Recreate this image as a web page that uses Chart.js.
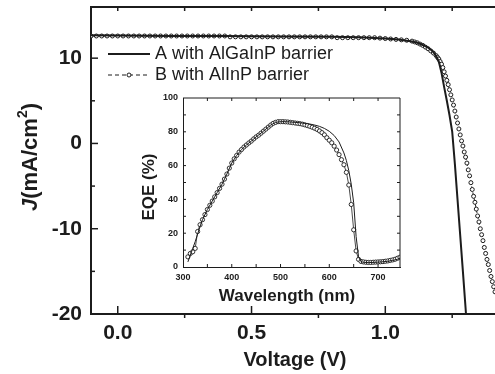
<!DOCTYPE html>
<html><head><meta charset="utf-8">
<script src="https://cdn.jsdelivr.net/npm/chart.js@4.4.1/dist/chart.umd.min.js"></script>
<style>
html,body{margin:0;padding:0;background:#fff;}
#wrap{position:relative;width:495px;height:374px;overflow:hidden;}
#wrap canvas{position:absolute;left:0;top:0;}
</style></head><body>
<div id="wrap"><canvas id="main" width="495" height="374"></canvas><canvas id="inset" width="495" height="374"></canvas></div>
<script>
// ---------- J-V data (main plot) ----------
const jvVoltageA = [-0.10,0.00,0.20,0.40,0.60,0.80,0.90,1.00,1.05,1.08,1.10,1.12,1.14,1.16,1.17,1.18,1.19,1.20,1.21,1.22,1.23,1.24,1.25,1.26,1.27,1.28,1.29,1.30,1.302];
const jvCurrentA = [12.7,12.65,12.6,12.6,12.55,12.5,12.45,12.3,12.2,12.05,11.95,11.8,11.55,11.25,11.0,10.7,10.25,9.6,8.3,6.6,5.0,3.3,1.4,-2.4,-6.6,-10.8,-15.0,-19.3,-20.2];

const jvVoltageB = [-0.10,-0.08,-0.06,-0.04,-0.02,0.00,0.02,0.04,0.06,0.08,0.10,0.12,0.14,0.16,0.18,0.20,0.22,0.24,0.26,0.28,0.30,0.32,0.34,0.36,0.38,0.40,
0.42,0.44,0.46,0.48,0.50,0.52,0.54,0.56,0.58,0.60,0.62,0.64,0.66,0.68,0.70,0.72,0.74,0.76,0.78,0.80,
0.82,0.84,0.86,0.88,0.90,0.92,0.94,0.96,0.98,1.00,1.02,1.04,1.06,1.08,1.10,
1.11,1.12,1.13,1.14,1.15,1.16,1.17,1.18,1.19,
1.195,1.20,1.205,1.21,1.215,1.22,1.225,1.23,1.235,1.24,1.245,1.25,1.255,1.26,1.265,1.27,1.275,1.28,1.285,1.29,1.295,1.30,1.305,1.31,1.315,1.32,1.325,1.33,1.335,1.34,1.345,1.35,1.355,1.36,1.365,1.37,1.375,1.38,1.385,1.39,1.395,1.40,1.405,1.41,1.415,1.42];
const jvCurrentB = [12.6,12.6,12.6,12.6,12.6,12.6,12.6,12.6,12.6,12.6,12.6,12.6,12.6,12.6,12.6,12.6,12.6,12.6,12.6,12.6,12.6,12.6,12.6,12.6,12.6,12.6,
12.5,12.5,12.5,12.5,12.5,12.5,12.5,12.5,12.5,12.5,12.5,12.5,12.5,12.5,12.5,12.5,12.5,12.5,12.5,12.5,
12.4,12.4,12.4,12.4,12.4,12.4,12.4,12.4,12.35,12.3,12.25,12.2,12.15,12.1,12.0,
11.9,11.8,11.65,11.5,11.3,11.1,10.85,10.6,10.3,
10.1,9.9,9.6,9.3,8.9,8.4,7.9,7.4,6.9,6.3,5.7,5.1,4.5,3.8,3.1,2.4,1.7,1.0,0.3,-0.3,-1.0,-1.6,-2.3,-3.1,-3.8,-4.6,-5.4,-6.2,-6.9,-7.7,-8.5,-9.2,-10.0,-10.7,-11.4,-12.2,-12.9,-13.6,-14.2,-14.9,-15.6,-16.2,-16.8,-17.4,-18.0,-18.6];

const xTickValues = [0, 0.5, 1.0];
const xTickLabels = ['0.0', '0.5', '1.0'];
const xMinorTicks = [0.25, 0.75, 1.25];
const yTickValues = [10, 0, -10, -20];
const yTickLabels = ['10', '0', '-10', '-20'];
const yMinorTicks = [5, -5, -15];
const seriesNames = ['A with AlGaInP barrier', 'B with AlInP barrier'];

// ---------- EQE data (inset) ----------
const eqeWavelengthA = [310,315,320,325,330,335,340,350,360,370,380,390,400,410,420,430,440,450,460,470,480,490,500,510,520,530,540,550,560,570,580,590,600,610,620,630,635,640,645,650,655,660,665,670,680,690,700,710,720,730,740,745];
const eqeA = [3,7,11,15,19.5,24,28,34,39,44,49,55,61.5,66,69.5,72.2,74.5,77,79.2,81.6,84,85.6,86,86,85.8,85.6,85.3,85,84.6,84,83.2,82,80.3,77.8,74,67.5,63,57,49,38,18,6,3.2,2.8,2.6,2.7,2.9,3.1,3.4,3.9,4.6,5.2];

const eqeWavelengthB = [310,315,320,325,330,335,340,345,350,355,360,365,370,375,380,385,390,395,400,405,410,415,420,425,430,435,440,445,450,455,460,465,470,475,480,485,490,495,500,505,510,515,520,525,530,535,540,545,550,555,560,565,570,575,580,585,590,595,600,605,610,615,620,625,630,635,640,645,650,655,660,665,670,675,680,685,690,695,700,705,710,715,720,725,730,735,740,745];
const eqeB = [6,8,9,11,21,25,28,31,34,36.5,39,41.5,44,46.5,49,52,55,58.5,61.5,64,66,68,69.5,71,72.2,73.4,74.5,75.8,77,78,79.2,80.4,81.6,82.8,84,85,85.6,86,86,86,85.9,85.8,85.6,85.4,85.2,85,84.8,84.5,84.1,83.7,83.2,82.7,82.1,81.4,80.5,79.5,78.2,76.5,75,73.5,71.5,69.2,66.5,63.5,60.5,56,48.5,37,22,9.5,4.5,3.3,3,2.8,2.7,2.7,2.8,2.9,3,3.1,3.2,3.4,3.6,3.9,4.2,4.6,5.2,5.8];

const insetXTicks = [300, 400, 500, 600, 700];
const insetYTicks = [0, 20, 40, 60, 80, 100];

// ---------- styling ----------
const ink = '#1c1c1c';
const fam = "'Liberation Sans', Arial, Helvetica, sans-serif";
const toPts = (xs, ys) => xs.map((x, i) => ({x: x, y: ys[i]}));

function line(ctx, x1, y1, x2, y2) { ctx.beginPath(); ctx.moveTo(x1, y1); ctx.lineTo(x2, y2); ctx.stroke(); }

const mainDecor = {
  id: 'mainDecor',
  afterDraw(chart) {
    const {ctx, chartArea: a, scales: {x, y}} = chart;
    ctx.save();
    ctx.strokeStyle = ink; ctx.fillStyle = ink;
    // top frame line
    ctx.lineWidth = 2;
    line(ctx, a.left, a.top, a.right, a.top);
    // ticks
    ctx.lineWidth = 1.5;
    yTickValues.forEach(v => { const p = y.getPixelForValue(v); line(ctx, a.left, p, a.left + 7, p); });
    yMinorTicks.forEach(v => { const p = y.getPixelForValue(v); line(ctx, a.left, p, a.left + 4, p); });
    xTickValues.forEach(v => { const p = x.getPixelForValue(v); line(ctx, p, a.bottom, p, a.bottom - 8); });
    xMinorTicks.forEach(v => { const p = x.getPixelForValue(v); line(ctx, p, a.bottom, p, a.bottom + 4); });
    xTickValues.concat(xMinorTicks).forEach(v => { const p = x.getPixelForValue(v); line(ctx, p, a.top, p, a.top + 4); });

    // legend
    ctx.font = '18px ' + fam; ctx.textBaseline = 'middle'; ctx.textAlign = 'left';
    ctx.lineWidth = 2; line(ctx, 108, 54, 150, 54);
    ctx.fillText(seriesNames[0], 155, 54);
    ctx.lineWidth = 1; ctx.setLineDash([4, 3]); line(ctx, 108, 75, 150, 75); ctx.setLineDash([]);
    ctx.fillStyle = '#fff'; ctx.beginPath(); ctx.arc(129, 75, 2, 0, Math.PI * 2); ctx.fill(); ctx.stroke();
    ctx.fillStyle = ink;
    ctx.fillText(seriesNames[1], 155, 75);

    // x title
    ctx.font = 'bold 20px ' + fam; ctx.textAlign = 'center';
    ctx.fillText('Voltage (V)', 295, 360);

    // y title (rotated, rich text)
    ctx.save();
    ctx.translate(37, 157); ctx.rotate(-Math.PI / 2);
    ctx.textBaseline = 'alphabetic'; ctx.textAlign = 'left';
    const parts = [
      {t: 'J', f: 'italic bold 22px ' + fam, dy: 0},
      {t: '(mA/cm', f: 'bold 22px ' + fam, dy: 0},
      {t: '2', f: 'bold 14px ' + fam, dy: -10},
      {t: ')', f: 'bold 22px ' + fam, dy: 0}
    ];
    let total = 0;
    parts.forEach(p => { ctx.font = p.f; p.w = ctx.measureText(p.t).width; total += p.w; });
    let cx = -total / 2;
    parts.forEach(p => { ctx.font = p.f; ctx.fillText(p.t, cx, p.dy); cx += p.w; });
    ctx.restore();
    ctx.restore();
  }
};

new Chart(document.getElementById('main'), {
  type: 'line',
  data: {datasets: [
    {label: seriesNames[0], data: toPts(jvVoltageA, jvCurrentA), borderColor: ink, borderWidth: 2, pointRadius: 0, tension: 0, fill: false},
    {label: seriesNames[1], data: toPts(jvVoltageB, jvCurrentB), borderColor: ink, borderWidth: 1, borderDash: [3, 3], pointRadius: 2, pointBorderWidth: 1, pointBackgroundColor: '#fff', pointBorderColor: ink, tension: 0, fill: false}
  ]},
  options: {
    responsive: false, animation: false, devicePixelRatio: 1,
    layout: {autoPadding: false, padding: {left: 0, top: 7, right: 0, bottom: 0}},
    plugins: {legend: {display: false}, tooltip: {enabled: false}},
    events: [],
    scales: {
      x: {type: 'linear', min: -0.1, max: 1.41,
        afterFit(s) { s.height = 60; s.paddingLeft = 0; s.paddingRight = 0; s.paddingTop = 0; s.paddingBottom = 0; },
        afterBuildTicks(s) { s.ticks = xTickValues.map(v => ({value: v})); },
        ticks: {font: {family: fam, size: 21, weight: 'bold'}, color: ink, padding: 7, maxRotation: 0, autoSkip: false, callback: (v, i) => xTickLabels[i]},
        grid: {display: false, drawTicks: false}, border: {display: true, color: ink, width: 2}},
      y: {type: 'linear', min: -20, max: 16,
        afterFit(s) { s.width = 91; s.paddingLeft = 0; s.paddingRight = 0; s.paddingTop = 0; s.paddingBottom = 0; },
        afterBuildTicks(s) { s.ticks = yTickValues.map(v => ({value: v})); },
        ticks: {font: {family: fam, size: 21, weight: 'bold'}, color: ink, padding: 9, autoSkip: false, callback: (v, i) => yTickLabels[i]},
        grid: {display: false, drawTicks: false}, border: {display: true, color: ink, width: 2}}
    }
  },
  plugins: [mainDecor]
});

const insetDecor = {
  id: 'insetDecor',
  afterDraw(chart) {
    const {ctx, chartArea: a, scales: {x, y}} = chart;
    ctx.save();
    ctx.strokeStyle = ink; ctx.fillStyle = ink; ctx.lineWidth = 1;
    line(ctx, a.left, a.top, a.right, a.top);
    line(ctx, a.right, a.top, a.right, a.bottom);
    for (let v = 10; v < 100; v += 10) {
      const p = y.getPixelForValue(v);
      line(ctx, a.left, p, a.left + 3, p); line(ctx, a.right, p, a.right - 3, p);
    }
    for (let v = 350; v < 745; v += 50) {
      const p = x.getPixelForValue(v);
      line(ctx, p, a.bottom, p, a.bottom - 3); line(ctx, p, a.top, p, a.top + 3);
    }
    ctx.font = 'bold 17px ' + fam; ctx.textAlign = 'center'; ctx.textBaseline = 'middle';
    ctx.fillText('Wavelength (nm)', 287, 296);
    ctx.save(); ctx.translate(149, 187); ctx.rotate(-Math.PI / 2);
    ctx.fillText('EQE (%)', 0, 0);
    ctx.restore();
    ctx.restore();
  }
};

new Chart(document.getElementById('inset'), {
  type: 'line',
  data: {datasets: [
    {label: 'A', data: toPts(eqeWavelengthA, eqeA), borderColor: ink, borderWidth: 1, pointRadius: 0, tension: 0, fill: false},
    {label: 'B', data: toPts(eqeWavelengthB, eqeB), borderColor: ink, borderWidth: 0.8, pointRadius: 2.1, pointBorderWidth: 0.9, pointBackgroundColor: '#fff', pointBorderColor: ink, tension: 0, fill: false}
  ]},
  options: {
    responsive: false, animation: false, devicePixelRatio: 1,
    layout: {autoPadding: false, padding: {left: 0, top: 98, right: 95, bottom: 0}},
    plugins: {legend: {display: false}, tooltip: {enabled: false}},
    events: [],
    scales: {
      x: {type: 'linear', min: 300, max: 745,
        afterFit(s) { s.height = 107; s.paddingLeft = 0; s.paddingRight = 0; s.paddingTop = 0; s.paddingBottom = 0; },
        afterBuildTicks(s) { s.ticks = insetXTicks.map(v => ({value: v})); },
        ticks: {font: {family: fam, size: 9, weight: 'bold'}, color: ink, padding: 5, maxRotation: 0, autoSkip: false, callback: (v, i) => String(insetXTicks[i])},
        grid: {display: false, drawTicks: false}, border: {display: true, color: ink, width: 1}},
      y: {type: 'linear', min: 0, max: 100,
        afterFit(s) { s.width = 183; s.paddingLeft = 0; s.paddingRight = 0; s.paddingTop = 0; s.paddingBottom = 0; },
        afterBuildTicks(s) { s.ticks = insetYTicks.map(v => ({value: v})); },
        ticks: {font: {family: fam, size: 9, weight: 'bold'}, color: ink, padding: 5, autoSkip: false, callback: (v, i) => String(insetYTicks[i])},
        grid: {display: false, drawTicks: false}, border: {display: true, color: ink, width: 1}}
    }
  },
  plugins: [insetDecor]
});
</script>
</body></html>
